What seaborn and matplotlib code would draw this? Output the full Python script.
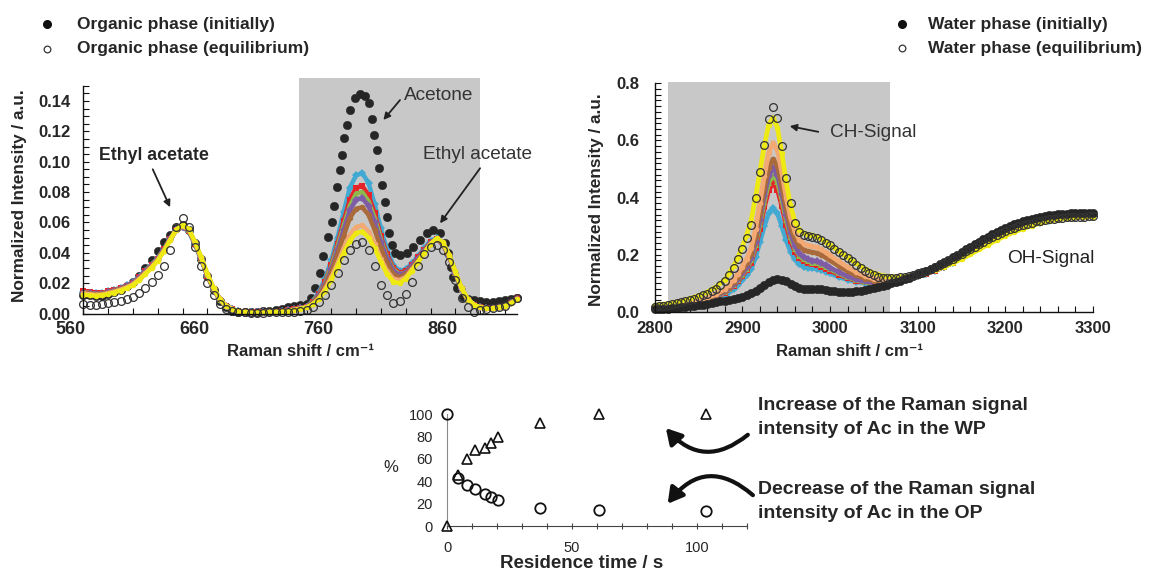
import numpy as np
import matplotlib
matplotlib.use("Agg")
import matplotlib.pyplot as plt
import matplotlib.transforms as mtransforms
from matplotlib.lines import Line2D
from matplotlib.patches import FancyArrowPatch, ArrowStyle
from matplotlib.ticker import MultipleLocator, FixedLocator, FormatStrFormatter
import seaborn as sns

W, H = 1151, 571

# ---------------- organic phase spectra ----------------
op_shift = np.arange(560, 911, 5)

op_init_shift = list(np.arange(560, 736, 5)) + [
    740, 743.5, 747, 750.5, 753.5, 757.5, 760.3, 762, 764.3, 767, 768.5, 770, 772.4, 775,
    779, 783, 787, 790, 792.6, 794.7, 796.6, 798.7, 800.6, 803.3, 805, 806.5, 809, 811.5,
    815.4, 820.8, 826, 831.5, 837, 842.3, 847.7, 851.7, 854.4, 856.3, 858.4, 861.6, 866.5,
    870, 875, 880, 885, 890, 895, 900, 905, 910]
op_init = [
    0.0125, 0.0120, 0.0115, 0.0118, 0.0128, 0.0140, 0.0158, 0.0178, 0.0205, 0.0250,
    0.0300, 0.0355, 0.0410, 0.0470, 0.0520, 0.0560, 0.0585, 0.0550, 0.0465, 0.0360,
    0.0250, 0.0155, 0.0085, 0.0040, 0.0018, 0.0009, 0.0007, 0.0007, 0.0012, 0.0015,
    0.0018, 0.0024, 0.0030, 0.0040, 0.0050, 0.0055,
    0.0065, 0.0105, 0.0166, 0.0265, 0.0380, 0.0506, 0.0605, 0.0705, 0.0835, 0.0945,
    0.1044, 0.1154, 0.1242, 0.1340, 0.1418, 0.1446, 0.1433, 0.1385, 0.1280, 0.1176,
    0.1077, 0.0956, 0.0846, 0.0736, 0.0638, 0.0528, 0.0450, 0.0397, 0.0385, 0.0400,
    0.0440, 0.0484, 0.0528, 0.0550, 0.0528, 0.0462, 0.0397, 0.0308, 0.0242, 0.0166,
    0.0110, 0.0095, 0.0088, 0.0080, 0.0078, 0.0079, 0.0082, 0.0088, 0.0095, 0.0102]

op_cyan = [
    0.0142, 0.0137, 0.0133, 0.0135, 0.0145, 0.0156, 0.0170, 0.0186, 0.0207, 0.0243,
    0.0283, 0.0322, 0.0366, 0.0425, 0.0492, 0.0550, 0.0568, 0.0540, 0.0455, 0.0356,
    0.0248, 0.0158, 0.0090, 0.0048, 0.0027, 0.0015, 0.0010, 0.0008, 0.0008, 0.0009,
    0.0010, 0.0012, 0.0015, 0.0020, 0.0027, 0.0035,
    0.0045, 0.0080, 0.0140, 0.0230, 0.0350, 0.0500, 0.0670, 0.0830, 0.0910, 0.0925,
    0.0860, 0.0720, 0.0560, 0.0420, 0.0320, 0.0280, 0.0290, 0.0330, 0.0380,
    0.0430, 0.0480, 0.0495, 0.0455, 0.0375, 0.0265, 0.0160, 0.0090, 0.0055, 0.0040,
    0.0035, 0.0035, 0.0040, 0.0050, 0.0070, 0.0095]
op_red = [
    0.0150, 0.0143, 0.0137, 0.0137, 0.0145, 0.0155, 0.0168, 0.0183, 0.0203, 0.0238,
    0.0278, 0.0318, 0.0362, 0.0422, 0.0490, 0.0550, 0.0570, 0.0545, 0.0460, 0.0360,
    0.0250, 0.0160, 0.0090, 0.0048, 0.0027, 0.0015, 0.0010, 0.0008, 0.0008, 0.0009,
    0.0010, 0.0012, 0.0015, 0.0020, 0.0027, 0.0035,
    0.0045, 0.0075, 0.0130, 0.0210, 0.0320, 0.0460, 0.0610, 0.0750, 0.0830, 0.0840,
    0.0780, 0.0660, 0.0510, 0.0390, 0.0300, 0.0270, 0.0280, 0.0320, 0.0370,
    0.0420, 0.0470, 0.0490, 0.0455, 0.0375, 0.0265, 0.0160, 0.0090, 0.0055, 0.0040,
    0.0035, 0.0035, 0.0040, 0.0052, 0.0072, 0.0100]
op_green = [
    0.0140, 0.0135, 0.0130, 0.0132, 0.0142, 0.0152, 0.0165, 0.0180, 0.0200, 0.0235,
    0.0275, 0.0315, 0.0360, 0.0420, 0.0490, 0.0550, 0.0572, 0.0548, 0.0462, 0.0362,
    0.0252, 0.0162, 0.0092, 0.0049, 0.0028, 0.0016, 0.0010, 0.0008, 0.0008, 0.0009,
    0.0010, 0.0012, 0.0015, 0.0020, 0.0026, 0.0034,
    0.0045, 0.0075, 0.0125, 0.0200, 0.0310, 0.0440, 0.0580, 0.0710, 0.0790, 0.0800,
    0.0740, 0.0630, 0.0490, 0.0370, 0.0290, 0.0260, 0.0270, 0.0310, 0.0360,
    0.0410, 0.0465, 0.0490, 0.0458, 0.0378, 0.0268, 0.0162, 0.0092, 0.0056, 0.0040,
    0.0035, 0.0035, 0.0040, 0.0050, 0.0070, 0.0097]
op_purple = [
    0.0138, 0.0133, 0.0129, 0.0131, 0.0140, 0.0150, 0.0163, 0.0178, 0.0198, 0.0232,
    0.0272, 0.0312, 0.0357, 0.0418, 0.0488, 0.0550, 0.0573, 0.0550, 0.0465, 0.0365,
    0.0255, 0.0164, 0.0093, 0.0050, 0.0028, 0.0016, 0.0010, 0.0008, 0.0008, 0.0009,
    0.0010, 0.0012, 0.0015, 0.0020, 0.0026, 0.0034,
    0.0045, 0.0070, 0.0120, 0.0190, 0.0290, 0.0420, 0.0550, 0.0680, 0.0750, 0.0760,
    0.0710, 0.0600, 0.0470, 0.0360, 0.0280, 0.0255, 0.0270, 0.0310, 0.0360,
    0.0410, 0.0465, 0.0492, 0.0460, 0.0380, 0.0270, 0.0163, 0.0093, 0.0056, 0.0040,
    0.0035, 0.0035, 0.0040, 0.0050, 0.0070, 0.0097]
op_brown = [
    0.0136, 0.0131, 0.0127, 0.0129, 0.0138, 0.0148, 0.0161, 0.0176, 0.0196, 0.0230,
    0.0270, 0.0310, 0.0355, 0.0416, 0.0487, 0.0551, 0.0575, 0.0552, 0.0468, 0.0368,
    0.0257, 0.0166, 0.0094, 0.0050, 0.0028, 0.0016, 0.0010, 0.0008, 0.0008, 0.0009,
    0.0010, 0.0012, 0.0015, 0.0019, 0.0025, 0.0033,
    0.0040, 0.0070, 0.0110, 0.0180, 0.0270, 0.0390, 0.0510, 0.0630, 0.0690, 0.0700,
    0.0650, 0.0550, 0.0430, 0.0330, 0.0260, 0.0240, 0.0260, 0.0300, 0.0350,
    0.0405, 0.0460, 0.0492, 0.0462, 0.0382, 0.0272, 0.0165, 0.0094, 0.0057, 0.0040,
    0.0035, 0.0035, 0.0040, 0.0050, 0.0069, 0.0096]
op_salmon = [
    0.0132, 0.0127, 0.0123, 0.0125, 0.0134, 0.0144, 0.0157, 0.0172, 0.0192, 0.0226,
    0.0266, 0.0306, 0.0352, 0.0413, 0.0485, 0.0552, 0.0577, 0.0555, 0.0470, 0.0370,
    0.0260, 0.0168, 0.0095, 0.0051, 0.0029, 0.0016, 0.0010, 0.0008, 0.0008, 0.0009,
    0.0010, 0.0012, 0.0014, 0.0018, 0.0024, 0.0032,
    0.0040, 0.0060, 0.0100, 0.0160, 0.0240, 0.0330, 0.0430, 0.0520, 0.0570, 0.0580,
    0.0540, 0.0460, 0.0360, 0.0280, 0.0230, 0.0220, 0.0240, 0.0290, 0.0340,
    0.0400, 0.0458, 0.0493, 0.0465, 0.0385, 0.0275, 0.0167, 0.0095, 0.0057, 0.0040,
    0.0035, 0.0035, 0.0040, 0.0049, 0.0068, 0.0095]
op_yellow = [
    0.0125, 0.0120, 0.0117, 0.0119, 0.0128, 0.0138, 0.0151, 0.0166, 0.0186, 0.0220,
    0.0260, 0.0300, 0.0347, 0.0410, 0.0483, 0.0553, 0.0580, 0.0558, 0.0473, 0.0373,
    0.0262, 0.0170, 0.0096, 0.0052, 0.0029, 0.0016, 0.0010, 0.0008, 0.0008, 0.0009,
    0.0010, 0.0011, 0.0013, 0.0017, 0.0023, 0.0031,
    0.0040, 0.0060, 0.0095, 0.0150, 0.0220, 0.0310, 0.0400, 0.0480, 0.0530, 0.0540,
    0.0500, 0.0430, 0.0340, 0.0260, 0.0210, 0.0200, 0.0230, 0.0280, 0.0340,
    0.0400, 0.0455, 0.0495, 0.0468, 0.0388, 0.0278, 0.0168, 0.0096, 0.0058, 0.0040,
    0.0035, 0.0035, 0.0040, 0.0048, 0.0067, 0.0094]
op_equil = [
    0.0060, 0.0058, 0.0058, 0.0060, 0.0068, 0.0075, 0.0085, 0.0095, 0.0110, 0.0135,
    0.0170, 0.0210, 0.0255, 0.0310, 0.0420, 0.0570, 0.0630, 0.0570, 0.0440, 0.0310,
    0.0200, 0.0120, 0.0060, 0.0028, 0.0015, 0.0010, 0.0007, 0.0006, 0.0006, 0.0006,
    0.0007, 0.0008, 0.0009, 0.0010, 0.0012, 0.0016,
    0.0025, 0.0040, 0.0075, 0.0120, 0.0190, 0.0270, 0.0350, 0.0420, 0.0460, 0.0470,
    0.0420, 0.0310, 0.0190, 0.0120, 0.0070, 0.0080, 0.0130, 0.0210, 0.0310,
    0.0390, 0.0440, 0.0450, 0.0420, 0.0340, 0.0220, 0.0100, 0.0040, 0.0010, 0.0020,
    0.0030, 0.0035, 0.0040, 0.0050, 0.0080, 0.0105]

# ---------------- water phase spectra ----------------
wp_shift = np.arange(2800, 3301, 5)
wp_shift_mid = [2800, 2810, 2820, 2830, 2840, 2850, 2860, 2870, 2880] + \
    list(range(2885, 2996, 5)) + list(range(3000, 3301, 10))

wp_init = [
    0.008, 0.009, 0.010, 0.011, 0.012, 0.013, 0.015, 0.017, 0.019, 0.021,
    0.023, 0.025, 0.027, 0.030, 0.033, 0.036, 0.039, 0.042, 0.045, 0.048,
    0.052, 0.057, 0.064, 0.072, 0.082, 0.093, 0.103, 0.110, 0.113, 0.112,
    0.106, 0.097, 0.089, 0.083, 0.080, 0.079, 0.080, 0.080, 0.078, 0.076,
    0.073, 0.071, 0.069, 0.068, 0.068, 0.069, 0.071, 0.074, 0.077, 0.080,
    0.083, 0.087, 0.091, 0.095, 0.099, 0.103, 0.108, 0.113, 0.119, 0.125,
    0.131, 0.137, 0.144, 0.151, 0.158, 0.166, 0.174, 0.182, 0.191, 0.200,
    0.209, 0.218, 0.227, 0.236, 0.245, 0.254, 0.263, 0.271, 0.279, 0.286,
    0.293, 0.300, 0.306, 0.311, 0.316, 0.321, 0.325, 0.329, 0.332, 0.335,
    0.337, 0.339, 0.341, 0.342, 0.343, 0.344, 0.345, 0.345, 0.346, 0.346,
    0.346]
wp_equil = [
    0.018, 0.019, 0.021, 0.023, 0.026, 0.029, 0.033, 0.037, 0.041, 0.046,
    0.051, 0.057, 0.063, 0.071, 0.080, 0.092, 0.108, 0.128, 0.153, 0.183,
    0.218, 0.258, 0.305, 0.400, 0.490, 0.585, 0.675, 0.718, 0.680, 0.580,
    0.470, 0.380, 0.310, 0.280, 0.270, 0.265, 0.263, 0.258, 0.250, 0.241,
    0.232, 0.221, 0.210, 0.199, 0.188, 0.176, 0.165, 0.154, 0.143, 0.134,
    0.127, 0.122, 0.119, 0.117, 0.117, 0.118, 0.120, 0.123, 0.126, 0.130,
    0.134, 0.139, 0.144, 0.150, 0.156, 0.163, 0.170, 0.178, 0.186, 0.194,
    0.202, 0.211, 0.219, 0.228, 0.236, 0.245, 0.253, 0.261, 0.268, 0.275,
    0.282, 0.288, 0.294, 0.299, 0.304, 0.308, 0.312, 0.316, 0.319, 0.322,
    0.324, 0.326, 0.328, 0.329, 0.330, 0.331, 0.332, 0.333, 0.333, 0.334,
    0.334]

wp_cyan = [
    0.008, 0.009, 0.011, 0.015, 0.020, 0.027, 0.036, 0.047, 0.060,
    0.070, 0.080, 0.095, 0.112, 0.128, 0.150, 0.190, 0.245, 0.300, 0.345, 0.362, 0.345,
    0.300, 0.250, 0.210, 0.183, 0.167, 0.158, 0.154, 0.152, 0.150, 0.146, 0.140,
    0.134, 0.122, 0.112, 0.105, 0.100, 0.098, 0.099, 0.103, 0.109, 0.116, 0.124,
    0.133, 0.144, 0.157, 0.172, 0.188, 0.205, 0.222, 0.239, 0.255, 0.269, 0.282,
    0.294, 0.304, 0.312, 0.319, 0.324, 0.328, 0.331, 0.333, 0.334]
wp_red = [
    0.010, 0.011, 0.013, 0.017, 0.022, 0.030, 0.039, 0.051, 0.066,
    0.078, 0.090, 0.106, 0.125, 0.145, 0.172, 0.222, 0.290, 0.365, 0.425, 0.450, 0.428,
    0.370, 0.302, 0.248, 0.210, 0.188, 0.176, 0.170, 0.166, 0.163, 0.158, 0.151,
    0.144, 0.130, 0.118, 0.109, 0.103, 0.100, 0.100, 0.103, 0.109, 0.116, 0.124,
    0.133, 0.144, 0.157, 0.172, 0.188, 0.205, 0.222, 0.239, 0.255, 0.269, 0.282,
    0.294, 0.304, 0.312, 0.319, 0.324, 0.328, 0.331, 0.333, 0.334]
wp_green = [
    0.011, 0.012, 0.014, 0.018, 0.023, 0.031, 0.040, 0.053, 0.068,
    0.080, 0.093, 0.110, 0.130, 0.151, 0.180, 0.234, 0.306, 0.385, 0.450, 0.478, 0.455,
    0.392, 0.320, 0.262, 0.220, 0.196, 0.183, 0.176, 0.172, 0.169, 0.164, 0.157,
    0.149, 0.134, 0.121, 0.111, 0.104, 0.101, 0.101, 0.104, 0.110, 0.117, 0.125,
    0.134, 0.145, 0.158, 0.173, 0.189, 0.206, 0.223, 0.240, 0.256, 0.270, 0.283,
    0.295, 0.305, 0.313, 0.320, 0.325, 0.329, 0.332, 0.334, 0.335]
wp_purple = [
    0.011, 0.012, 0.015, 0.019, 0.024, 0.032, 0.042, 0.055, 0.071,
    0.083, 0.096, 0.114, 0.135, 0.157, 0.188, 0.245, 0.322, 0.405, 0.474, 0.505, 0.480,
    0.413, 0.337, 0.274, 0.230, 0.204, 0.190, 0.183, 0.179, 0.176, 0.170, 0.162,
    0.154, 0.138, 0.124, 0.113, 0.106, 0.102, 0.102, 0.105, 0.110, 0.117, 0.125,
    0.134, 0.145, 0.158, 0.173, 0.189, 0.206, 0.223, 0.240, 0.256, 0.270, 0.283,
    0.295, 0.305, 0.313, 0.320, 0.325, 0.329, 0.332, 0.334, 0.335]
wp_brown = [
    0.012, 0.013, 0.016, 0.020, 0.026, 0.034, 0.045, 0.058, 0.075,
    0.088, 0.103, 0.122, 0.145, 0.170, 0.203, 0.264, 0.345, 0.432, 0.504, 0.535, 0.510,
    0.440, 0.362, 0.298, 0.255, 0.230, 0.217, 0.211, 0.208, 0.205, 0.199, 0.190,
    0.180, 0.160, 0.142, 0.127, 0.116, 0.109, 0.106, 0.107, 0.111, 0.118, 0.126,
    0.135, 0.146, 0.159, 0.174, 0.190, 0.207, 0.224, 0.241, 0.257, 0.271, 0.284,
    0.296, 0.306, 0.314, 0.321, 0.326, 0.330, 0.333, 0.335, 0.336]
wp_salmon = [
    0.013, 0.015, 0.018, 0.022, 0.028, 0.037, 0.048, 0.062, 0.080,
    0.095, 0.112, 0.133, 0.158, 0.186, 0.222, 0.290, 0.380, 0.476, 0.556, 0.592, 0.565,
    0.488, 0.400, 0.328, 0.280, 0.252, 0.238, 0.232, 0.229, 0.225, 0.218, 0.208,
    0.197, 0.176, 0.156, 0.139, 0.125, 0.115, 0.110, 0.110, 0.113, 0.119, 0.127,
    0.136, 0.147, 0.160, 0.175, 0.191, 0.208, 0.225, 0.242, 0.258, 0.272, 0.285,
    0.297, 0.307, 0.315, 0.322, 0.327, 0.331, 0.334, 0.336, 0.337]
wp_yellow = [
    0.022, 0.026, 0.031, 0.038, 0.046, 0.056, 0.069, 0.087, 0.112,
    0.135, 0.160, 0.190, 0.228, 0.270, 0.320, 0.400, 0.490, 0.580, 0.655, 0.680, 0.645,
    0.555, 0.455, 0.370, 0.315, 0.287, 0.275, 0.270, 0.267, 0.263, 0.255, 0.245,
    0.234, 0.212, 0.190, 0.169, 0.150, 0.135, 0.126, 0.122, 0.122, 0.125, 0.130,
    0.137, 0.146, 0.157, 0.170, 0.185, 0.201, 0.218, 0.235, 0.251, 0.266, 0.279,
    0.291, 0.301, 0.310, 0.317, 0.323, 0.327, 0.330, 0.332, 0.333]

# ---------------- residence time plot ----------------
res_time = [0, 4.3, 8, 11.3, 15.3, 17.6, 20.3, 37.3, 60.7, 103.5]
wp_percent = [0, 45.4, 59.7, 67.8, 69.3, 73.7, 79.7, 91.6, 99.7, 100]
op_percent = [100, 43, 37, 32.8, 28.4, 26, 23, 16.4, 14, 13.4]

series_colors = {
    "cyan": "#41A9D2", "red": "#E4262B", "green": "#8FB84C", "purple": "#7E5CA6",
    "brown": "#A96B3C", "salmon": "#F2A973", "yellow": "#EEE813",
}
dark = "#262626"

sns.set_style("white")
plt.rcParams["font.family"] = ["Liberation Sans", "DejaVu Sans"]


def px(x, y):
    return x / W, 1 - y / H


fig = plt.figure(figsize=(W / 100, H / 100), dpi=100)
ax1 = fig.add_axes([83.3 / W, 1 - 313.5 / H, 434 / W, 227.7 / H])
ax2 = fig.add_axes([654.7 / W, 1 - 311.7 / H, 438.3 / W, 228.4 / H])
ax3 = fig.add_axes([447 / W, 1 - 526 / H, 300 / W, 112 / H])


def draw_spectra(ax, x_init, y_init, x_mid, mids, x_eq, y_eq, lw, ms, init_z):
    sns.lineplot(x=x_init, y=y_init, ax=ax, linestyle="none", marker="o", markersize=6,
                 color=dark, markeredgecolor=dark, markeredgewidth=0.4,
                 estimator=None, sort=False, zorder=init_z, clip_on=False)
    markers = ["D", "s", "^", "D", "o", "o", "o"]
    for (name, ys), mk in zip(mids, markers):
        c = series_colors[name]
        sns.lineplot(x=x_mid, y=ys, ax=ax, color=c, lw=lw, marker=mk, markersize=ms,
                     markeredgecolor=c, markeredgewidth=0, estimator=None, sort=False,
                     zorder=4, clip_on=False)
    sns.lineplot(x=x_eq, y=y_eq, ax=ax, linestyle="none", marker="o", markersize=5.6,
                 color="#333333", markerfacecolor="none", markeredgecolor="#333333",
                 markeredgewidth=0.9, estimator=None, sort=False, zorder=6, clip_on=False)


draw_spectra(ax1, op_init_shift, op_init, op_shift,
             [("cyan", op_cyan), ("red", op_red), ("green", op_green), ("purple", op_purple),
              ("brown", op_brown), ("salmon", op_salmon), ("yellow", op_yellow)],
             op_shift, op_equil, 3.2, 4.0, 3)
draw_spectra(ax2, wp_shift, wp_init, wp_shift_mid,
             [("cyan", wp_cyan), ("red", wp_red), ("green", wp_green), ("purple", wp_purple),
              ("brown", wp_brown), ("salmon", wp_salmon), ("yellow", wp_yellow)],
             wp_shift, wp_equil, 3.4, 4.0, 5)

# grey highlight boxes
ax1.axvspan(734, 880, ymin=0, ymax=1.034, color="#C8C8C8", lw=0, zorder=0, clip_on=False)
ax2.axvspan(2815, 3068, ymin=-0.006, ymax=1.007, color="#C8C8C8", lw=0, zorder=0, clip_on=False)

# axes styling
ax1.set_xlim(560, 910)
ax1.set_ylim(0, 0.15)
ax1.xaxis.set_major_locator(FixedLocator([560, 660, 760, 860]))
ax1.xaxis.set_minor_locator(MultipleLocator(20))
ax1.yaxis.set_major_locator(MultipleLocator(0.02))
ax1.yaxis.set_minor_locator(MultipleLocator(0.005))
ax1.yaxis.set_major_formatter(FormatStrFormatter("%.2f"))

ax2.set_xlim(2800, 3300)
ax2.set_ylim(0, 0.8)
ax2.xaxis.set_major_locator(MultipleLocator(100))
ax2.xaxis.set_minor_locator(MultipleLocator(20))
ax2.yaxis.set_major_locator(MultipleLocator(0.2))
ax2.yaxis.set_minor_locator(MultipleLocator(0.02))
ax2.yaxis.set_major_formatter(FormatStrFormatter("%.1f"))

for ax in (ax1, ax2):
    ax.patch.set_alpha(0)
    for s in ("top", "right"):
        ax.spines[s].set_visible(False)
    for s in ("left", "bottom"):
        ax.spines[s].set_color("#111111")
        ax.spines[s].set_linewidth(1.0)
        ax.spines[s].set_zorder(7)
    ax.tick_params(which="both", direction="in", length=4, width=0.8, color="#111111",
                   bottom=True, left=True)

ax1.tick_params(axis="x", which="major", labelsize=13, pad=5.5)
ax1.tick_params(axis="y", which="major", labelsize=12, pad=9)
ax2.tick_params(axis="x", which="major", labelsize=12, pad=7)
ax2.tick_params(axis="y", which="major", labelsize=12, pad=11)

shift_left = mtransforms.ScaledTranslation(-13 / 100, 0, fig.dpi_scale_trans)
for t in ax1.xaxis.get_major_ticks():
    t.label1.set_transform(t.label1.get_transform() + shift_left)
for ax in (ax1, ax2):
    for lbl in ax.get_xticklabels() + ax.get_yticklabels():
        lbl.set_fontweight("bold")

ax1.set_xlabel("Raman shift / cm⁻¹", fontsize=12, fontweight="bold", va="center")
ax1.xaxis.set_label_coords(0.5, (313.5 - 352) / 227.7)
ax1.set_ylabel("Normalized Intensity / a.u.", fontsize=12.4, fontweight="bold", va="center")
ax1.yaxis.set_label_coords((20 - 83.3) / 434, 0.516)
ax2.set_xlabel("Raman shift / cm⁻¹", fontsize=12, fontweight="bold", va="center")
ax2.xaxis.set_label_coords((850 - 654.7) / 438.3, (311.7 - 352) / 228.4)
ax2.set_ylabel("Normalized Intensity / a.u.", fontsize=12.4, fontweight="bold", va="center")
ax2.yaxis.set_label_coords((596 - 654.7) / 438.3, 0.489)

# annotations on spectra
arrow_kw = dict(arrowstyle="-|>", color="#222222", lw=1.3, mutation_scale=10,
                shrinkA=0, shrinkB=0)
ax1.text(616.6, 0.104, "Ethyl acetate", ha="center", va="center", fontsize=12.8,
         fontweight="bold", zorder=8)
ax1.annotate("", xy=(630, 0.070), xytext=(616, 0.095), arrowprops=arrow_kw, zorder=8)
ax1.text(846.9, 0.1435, "Acetone", ha="center", va="center", fontsize=13.7,
         color="#333333", zorder=8)
ax1.annotate("", xy=(802, 0.1275), xytext=(815.4, 0.1406), arrowprops=arrow_kw, zorder=8)
ax1.text(878.3, 0.105, "Ethyl acetate", ha="center", va="center", fontsize=13.7,
         color="#333333", zorder=8)
ax1.annotate("", xy=(847.7, 0.0594), xytext=(880, 0.0957), arrowprops=arrow_kw,
             annotation_clip=False, zorder=8)
ax2.text(3049, 0.627, "CH-Signal", ha="center", va="center", fontsize=13.7,
         color="#333333", zorder=8)
ax2.annotate("", xy=(2954, 0.650), xytext=(2986.6, 0.630), arrowprops=arrow_kw, zorder=8)
ax2.text(3251.5, 0.188, "OH-Signal", ha="center", va="center", fontsize=13.7,
         color="#222222", zorder=8)

# legends drawn at figure level
for (mx, my), (tx, txt), filled in [
        ((47, 24), (77, "Organic phase (initially)"), True),
        ((47, 49), (77, "Organic phase (equilibrium)"), False),
        ((902, 24), (928, "Water phase (initially)"), True),
        ((902, 48), (928, "Water phase (equilibrium)"), False)]:
    fx, fy = px(mx, my)
    if filled:
        fig.add_artist(Line2D([fx], [fy], transform=fig.transFigure, marker="o",
                              markersize=5.5, color="#111111", linestyle="none"))
    else:
        fig.add_artist(Line2D([fx], [fy], transform=fig.transFigure, marker="o",
                              markersize=4.8, markerfacecolor="none",
                              markeredgecolor="#333333", markeredgewidth=0.9,
                              linestyle="none"))
    fig.text(*px(tx, my), txt, fontsize=12.5, fontweight="bold", va="center", ha="left")

# residence time plot
sns.lineplot(x=res_time, y=wp_percent, ax=ax3, linestyle="none", marker="^", markersize=7.5,
             markerfacecolor="none", markeredgecolor="#111111", markeredgewidth=1.2,
             color="#111111", estimator=None, sort=False, clip_on=False, zorder=5)
sns.lineplot(x=res_time, y=op_percent, ax=ax3, linestyle="none", marker="o", markersize=7.5,
             markerfacecolor="none", markeredgecolor="#111111", markeredgewidth=1.3,
             color="#111111", estimator=None, sort=False, clip_on=False, zorder=5)
ax3.set_xlim(0, 120)
ax3.set_ylim(0, 100)
ax3.xaxis.set_major_locator(FixedLocator([0, 50, 100]))
ax3.xaxis.set_minor_locator(MultipleLocator(10))
ax3.yaxis.set_major_locator(MultipleLocator(20))
ax3.patch.set_alpha(0)
for s in ("top", "right"):
    ax3.spines[s].set_visible(False)
ax3.spines["left"].set_color("#8a8a8a")
ax3.spines["bottom"].set_color("#444444")
ax3.tick_params(axis="x", which="both", direction="inout", length=5, width=0.8,
                color="#444444", labelsize=10.5, pad=8, bottom=True)
ax3.tick_params(axis="y", which="both", length=0, labelsize=10.5, pad=10)
ax3.set_xlabel("Residence time / s", fontsize=13.5, fontweight="bold", va="center")
ax3.xaxis.set_label_coords(0.45, (526 - 563) / 112)
ax3.set_ylabel("%", fontsize=12, rotation=0, va="center", ha="center")
ax3.yaxis.set_label_coords((391 - 447) / 300, 0.518)

# curved arrows and notes
style = ArrowStyle("-|>", head_length=0.7, head_width=0.4)
fig.add_artist(FancyArrowPatch(px(750, 433), px(664, 426), transform=fig.transFigure,
                               connectionstyle="arc3,rad=-0.5", arrowstyle=style,
                               mutation_scale=13, lw=3.0, color="#111111"))
fig.add_artist(FancyArrowPatch(px(755, 497), px(666, 506), transform=fig.transFigure,
                               connectionstyle="arc3,rad=0.55", arrowstyle=style,
                               mutation_scale=13, lw=3.0, color="#111111"))
for y, txt in [(405, "Increase of the Raman signal"), (430, "intensity of Ac in the WP"),
               (489, "Decrease of the Raman signal"), (514, "intensity of Ac in the OP")]:
    fig.text(*px(758, y), txt, fontsize=14, fontweight="bold", va="center", ha="left")

fig.savefig("out.png", dpi=100)
